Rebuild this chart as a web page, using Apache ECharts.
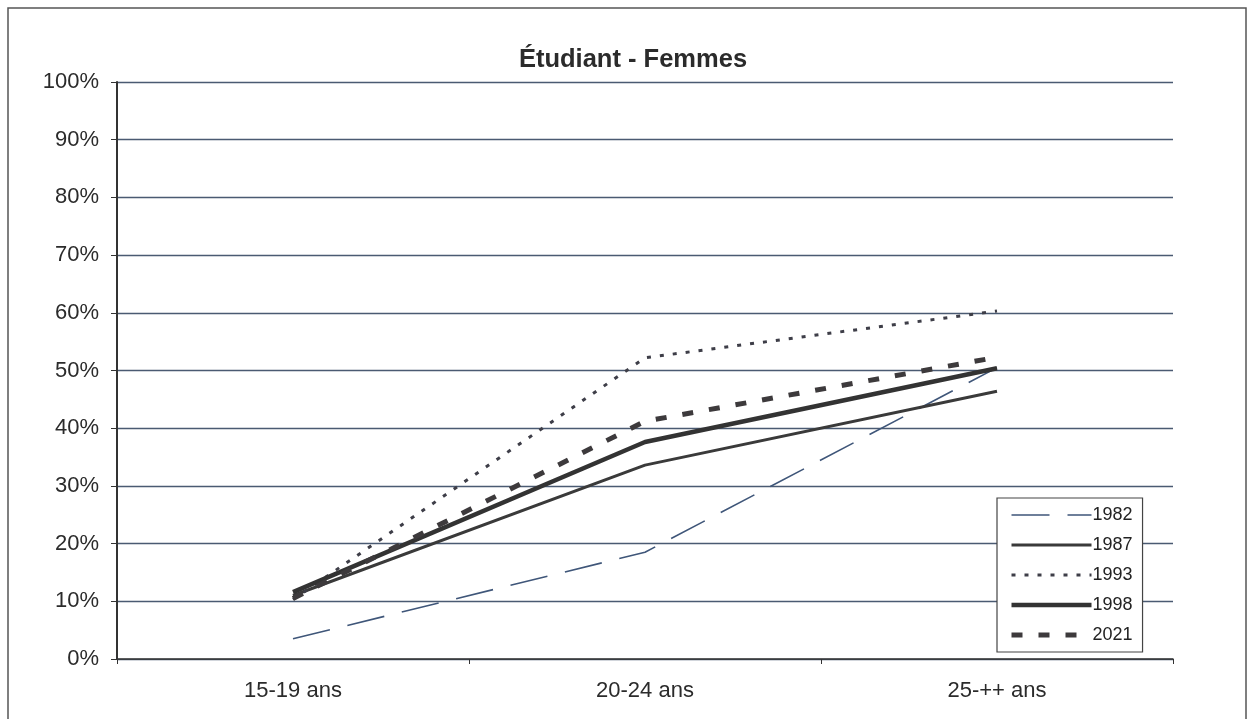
<!DOCTYPE html>
<html>
<head>
<meta charset="utf-8">
<script src="https://cdn.jsdelivr.net/npm/echarts@6/dist/echarts.min.js"></script>
<style>
html,body{margin:0;padding:0;background:#fff;}
#c{width:1248px;height:719px;}
</style>
</head>
<body>
<div id="c"></div>
<script>
const categories = ['15-19 ans', '20-24 ans', '25-++ ans'];
const seriesNames = ['1982', '1987', '1993', '1998', '2021'];
const v1982 = [3.5, 18.5, 50.5];
const v1987 = [11, 33.6, 46.4];
const v1993 = [10.3, 52.2, 60.3];
const v1998 = [11.6, 37.6, 50.4];
const v2021 = [10.5, 41.2, 52.3];
const yTicks = [0, 10, 20, 30, 40, 50, 60, 70, 80, 90, 100];

const styles = [
  {color: '#3f5679', width: 1.6, type: [38, 18]},
  {color: '#3a3a3a', width: 3, type: 'solid'},
  {color: '#3e3e48', width: 3, type: [4, 9]},
  {color: '#333333', width: 4.5, type: 'solid'},
  {color: '#3d3a3c', width: 5, type: [11, 16]}
];
const values = [v1982, v1987, v1993, v1998, v2021];
const FONT = 'Liberation Sans, Arial, sans-serif';

const chart = echarts.init(document.getElementById('c'), null, {renderer: 'canvas'});
chart.setOption({
  animation: false,
  backgroundColor: '#ffffff',
  textStyle: {fontFamily: FONT},
  title: {
    text: 'Étudiant - Femmes',
    left: 628, top: 42, textAlign: 'center',
    textStyle: {fontSize: 25.5, fontWeight: 'bold', color: '#2b2b2b', fontFamily: FONT}
  },
  graphic: [{
    type: 'rect', shape: {x: 8, y: 8, width: 1238, height: 730},
    style: {fill: 'none', stroke: '#555', lineWidth: 1.5}, silent: true, z: -1
  }],
  grid: {left: 117, right: 75, top: 82, bottom: 60, containLabel: false},
  legend: {
    orient: 'vertical', left: 997, top: 498,
    padding: [8, 10, 8, 12],
    itemWidth: 80, itemHeight: 14, itemGap: 12,
    backgroundColor: '#fff',
    borderColor: '#444', borderWidth: 1.2,
    itemStyle: {opacity: 0},
    textStyle: {fontSize: 18, color: '#222', padding: [0, 0, 0, -4], fontFamily: FONT},
    data: seriesNames.map((n, i) => ({name: n, lineStyle: {width: styles[i].width, type: styles[i].type, color: styles[i].color}}))
  },
  xAxis: {
    type: 'category', data: categories, boundaryGap: true,
    axisLine: {lineStyle: {color: '#333', width: 1.5}},
    axisTick: {show: true, length: 5, lineStyle: {color: '#333'}},
    axisLabel: {fontSize: 22, color: '#2b2b2b', margin: 21, fontFamily: FONT},
    splitLine: {show: false}
  },
  yAxis: {
    type: 'value', min: 0, max: 100, interval: 10,
    axisLine: {show: true, lineStyle: {color: '#333', width: 2}},
    axisTick: {show: true, length: 6, inside: false, lineStyle: {color: '#333'}},
    axisLabel: {fontSize: 22, color: '#2b2b2b', margin: 18, fontFamily: FONT, formatter: v => yTicks.includes(v) ? v + '%' : ''},
    splitLine: {show: true, lineStyle: {color: '#4a5a72', width: 1.3}}
  },
  series: seriesNames.map((n, i) => ({
    name: n, type: 'line', data: values[i], symbol: 'none',
    lineStyle: {color: styles[i].color, width: styles[i].width, type: styles[i].type, cap: 'butt'},
    itemStyle: {color: styles[i].color},
    z: 2 + i
  }))
});
</script>
</body>
</html>
